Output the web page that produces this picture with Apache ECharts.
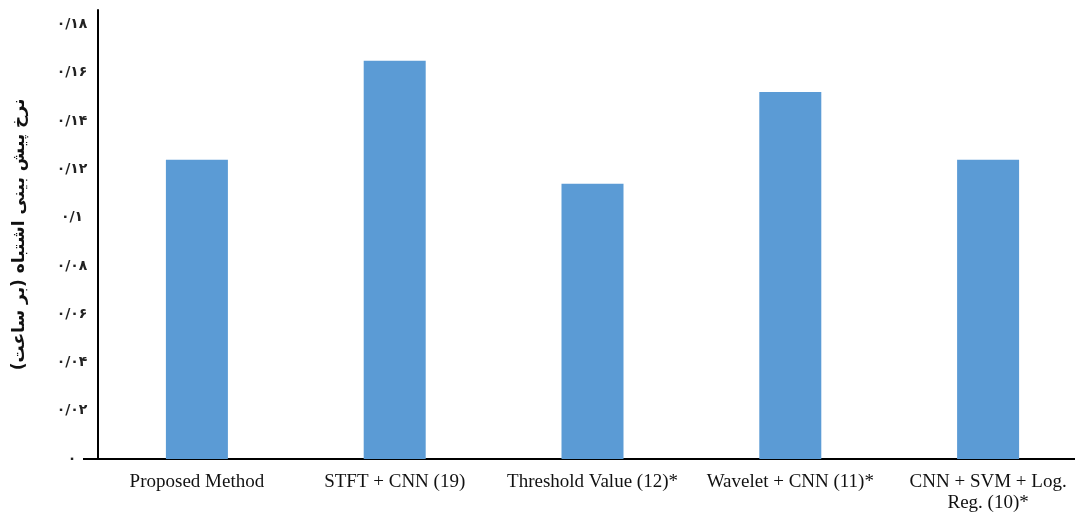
<html>
  <head>
    <meta charset="utf-8">
    <title>Error rate</title>
    <script src="https://cdn.jsdelivr.net/npm/echarts@6.0.0/dist/echarts.min.js"></script>
    <style>
      body {
        margin: 0px;
        background: #fff;
      }
      #chart {
        width: 1075px;
        height: 513px;
      }
    </style>
  </head>
  <body>
    <div id="chart"></div>
  </body>
</html>
<script type="text/javascript">
  // data
  const methods = ['Proposed Method', 'STFT + CNN (19)', 'Threshold Value (12)*', 'Wavelet + CNN (11)*', 'CNN + SVM + Log.\nReg. (10)*']
  const errorRates = [0.124, 0.165, 0.114, 0.152, 0.124]
  const yTicks = [0, 0.02, 0.04, 0.06, 0.08, 0.1, 0.12, 0.14, 0.16, 0.18]
  const yTickLabels = ['۰', '۰/۰۲', '۰/۰۴', '۰/۰۶', '۰/۰۸', '۰/۱', '۰/۱۲', '۰/۱۴', '۰/۱۶', '۰/۱۸']
  const yTitle = 'نرخ پیش بینی اشتباه (بر ساعت)'

  const myChart = echarts.init(document.getElementById('chart'))

  const option = {
    backgroundColor: '#fff',
    animation: false,
    grid: {
      left: 98,
      top: 10,
      bottom: 54,
      width: 989,
      outerBoundsMode: 'none',
      containLabel: false
    },
    xAxis: {
      type: 'category',
      data: methods,
      axisLine: { lineStyle: { color: '#000', width: 2 } },
      axisTick: { show: false },
      axisLabel: {
        color: '#111',
        fontFamily: 'Liberation Serif',
        fontSize: 19,
        margin: 13,
        lineHeight: 21,
        interval: 0
      }
    },
    yAxis: {
      type: 'value',
      min: 0,
      max: 0.186,
      name: yTitle,
      nameLocation: 'middle',
      nameGap: 70,
      nameRotate: 90,
      nameTextStyle: {
        color: '#111',
        fontFamily: 'DejaVu Sans',
        fontWeight: 'bold',
        fontSize: 17
      },
      axisLine: { show: true, lineStyle: { color: '#000', width: 2 } },
      axisTick: { show: true, customValues: [0], length: 15, lineStyle: { color: '#000', width: 2 } },
      splitLine: { show: false },
      axisLabel: {
        customValues: yTicks,
        color: '#222',
        fontFamily: 'DejaVu Sans',
        fontWeight: 'bold',
        fontSize: 14,
        align: 'center',
        margin: 26,
        formatter: (v) => {
          const i = yTicks.findIndex((t) => Math.abs(t - v) < 1e-6)
          return i >= 0 ? yTickLabels[i] : ''
        }
      }
    },
    series: [
      {
        type: 'bar',
        data: errorRates,
        barWidth: 62,
        itemStyle: { color: '#5B9BD5' }
      }
    ]
  }

  myChart.setOption(option)
</script>
